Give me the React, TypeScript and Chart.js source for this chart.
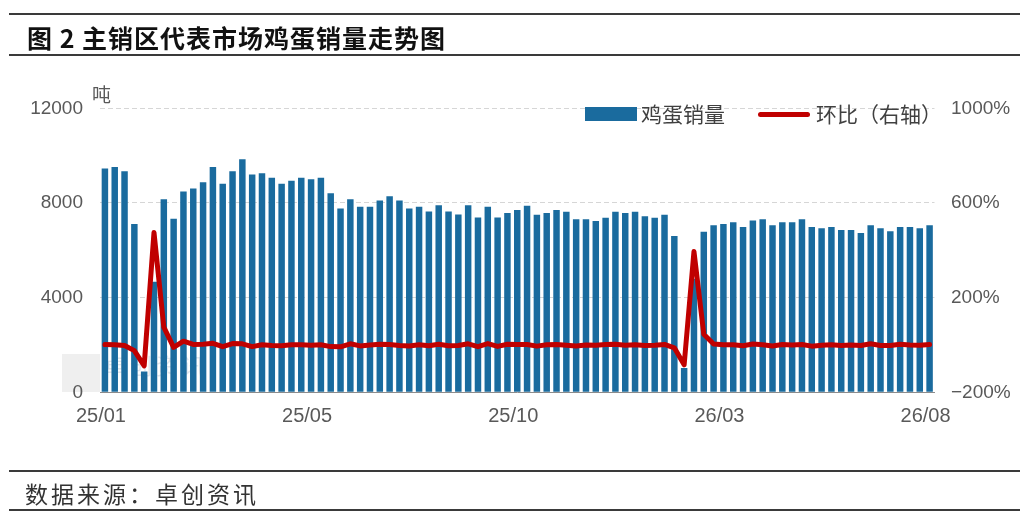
import React, { useEffect, useRef } from "react";
import { Chart, registerables } from "chart.js";

Chart.register(...registerables);

// Weekly dates (categories)
const weeks = [
  "2025-01-03", "2025-01-10", "2025-01-17", "2025-01-24", "2025-01-31",
  "2025-02-07", "2025-02-14", "2025-02-21", "2025-02-28",
  "2025-03-07", "2025-03-14", "2025-03-21", "2025-03-28",
  "2025-04-04", "2025-04-11", "2025-04-18", "2025-04-25",
  "2025-05-02", "2025-05-09", "2025-05-16", "2025-05-23", "2025-05-30",
  "2025-06-06", "2025-06-13", "2025-06-20", "2025-06-27",
  "2025-07-04", "2025-07-11", "2025-07-18", "2025-07-25",
  "2025-08-01", "2025-08-08", "2025-08-15", "2025-08-22", "2025-08-29",
  "2025-09-05", "2025-09-12", "2025-09-19", "2025-09-26",
  "2025-10-03", "2025-10-10", "2025-10-17", "2025-10-24", "2025-10-31",
  "2025-11-07", "2025-11-14", "2025-11-21", "2025-11-28",
  "2025-12-05", "2025-12-12", "2025-12-19", "2025-12-26",
  "2026-01-02", "2026-01-09", "2026-01-16", "2026-01-23", "2026-01-30",
  "2026-02-06", "2026-02-13", "2026-02-20", "2026-02-27",
  "2026-03-06", "2026-03-13", "2026-03-20", "2026-03-27",
  "2026-04-03", "2026-04-10", "2026-04-17", "2026-04-24",
  "2026-05-01", "2026-05-08", "2026-05-15", "2026-05-22", "2026-05-29",
  "2026-06-05", "2026-06-12", "2026-06-19", "2026-06-26",
  "2026-07-03", "2026-07-10", "2026-07-17", "2026-07-24", "2026-07-31",
  "2026-08-07", "2026-08-14",
];

// 鸡蛋销量 (吨)
const sales = [
  9455, 9515, 9343, 7115, 883, 4672, 8157, 7330, 8487, 8615,
  8872, 9515, 8815, 9343, 9843, 9200, 9257, 9070, 8815, 8943,
  9070, 9000, 9070, 8414, 7771, 8157, 7843, 7843, 8100, 8286,
  8100, 7771, 7843, 7643, 7900, 7643, 7514, 7900, 7386, 7843,
  7386, 7571, 7700, 7886, 7500, 7571, 7700, 7629, 7314, 7314,
  7243, 7371, 7629, 7571, 7629, 7443, 7371, 7500, 6600, 1028,
  4800, 6786, 7057, 7114, 7186, 6986, 7257, 7314, 7057, 7186,
  7186, 7314, 6986, 6929, 6986, 6857, 6857, 6729, 7057, 6929,
  6800, 6986, 6986, 6929, 7057,
];

// 环比 (%, right axis)
const momPct = [
  2, 1, -2, -24, -88, 475, 75, -10, 16, 2,
  3, 7, -7, 6, 5, -7, 1, -2, -3, 1,
  1, -1, 1, -7, -8, 5, -4, 0, 3, 2,
  -2, -4, 1, -3, 3, -3, -2, 5, -7, 6,
  -6, 3, 2, 2, -5, 1, 2, -1, -4, 0,
  -1, 2, 3, -1, 1, -2, -1, 2, -12, -84,
  395, 45, 4, 1, 1, -3, 4, 1, -4, 2,
  0, 2, -5, -1, 1, -2, 0, -2, 5, -2,
  -2, 3, 0, -1, 2,
];

const leftTicks = [0, 4000, 8000, 12000];
const rightTicks = [-200, 200, 600, 1000];
const labelEvery = 21;

const BAR_COLOR = "#1a6b9e";
const LINE_COLOR = "#c00000";
const TICK_FONT = '"Liberation Sans", Arial, "Noto Sans CJK SC", sans-serif';
const CJK_FONT = '"Noto Sans CJK SC", "Noto Sans", sans-serif';

function fmtWeek(s: string) {
  return s.slice(2, 4) + "/" + s.slice(5, 7);
}

export default function App() {
  const ref = useRef<HTMLCanvasElement>(null);

  useEffect(() => {
    if (!ref.current) return;
    const chart = new Chart(ref.current, {
      data: {
        labels: weeks,
        datasets: [
          {
            type: "line",
            label: "环比（右轴）",
            data: momPct,
            yAxisID: "y1",
            borderColor: LINE_COLOR,
            backgroundColor: LINE_COLOR,
            borderWidth: 5,
            pointRadius: 0,
            tension: 0,
            borderJoinStyle: "round",
            borderCapStyle: "round",
            order: 0,
          } as any,
          {
            type: "bar",
            label: "鸡蛋销量",
            data: sales,
            yAxisID: "y",
            backgroundColor: BAR_COLOR,
            barPercentage: 0.66,
            categoryPercentage: 1,
            order: 1,
          } as any,
        ],
      },
      options: {
        responsive: false,
        animation: false,
        layout: { padding: { top: 108.3, bottom: 82.7, left: 0, right: 0 } },
        plugins: {
          legend: { display: false },
          tooltip: { enabled: false },
        },
        scales: {
          x: {
            type: "category",
            offset: true,
            grid: { display: false, drawTicks: false },
            border: { display: true, color: "#8c8c8c", width: 1 },
            afterFit: (s: any) => {
              s.height = 50;
            },
            ticks: {
              autoSkip: false,
              maxRotation: 0,
              minRotation: 0,
              padding: 12,
              labelOffset: -4,
              color: "#595959",
              font: { family: TICK_FONT, size: 20 },
              callback: (_v: any, i: number) =>
                i % labelEvery === 0 ? fmtWeek(weeks[i]) : "",
            },
          },
          y: {
            type: "linear",
            position: "left",
            min: leftTicks[0],
            max: leftTicks[leftTicks.length - 1],
            afterBuildTicks: (s: any) => {
              s.ticks = leftTicks.map((v) => ({ value: v }));
            },
            afterFit: (s: any) => {
              s.width = 100;
            },
            grid: {
              drawTicks: false,
              color: (c: any) => (c.tick && c.tick.value === 0 ? "rgba(0,0,0,0)" : "#d6d6d6"),
              lineWidth: 1,
            },
            border: { display: false, dash: [5, 3] },
            ticks: {
              padding: 17,
              color: "#595959",
              font: { family: TICK_FONT, size: 19 },
              callback: (v: any) => String(v),
            },
          },
          y1: {
            type: "linear",
            position: "right",
            min: rightTicks[0],
            max: rightTicks[rightTicks.length - 1],
            afterBuildTicks: (s: any) => {
              s.ticks = rightTicks.map((v) => ({ value: v }));
            },
            afterFit: (s: any) => {
              s.width = 94.5;
            },
            grid: { display: false, drawTicks: false },
            border: { display: false },
            ticks: {
              padding: 16.5,
              color: "#595959",
              font: { family: TICK_FONT, size: 19 },
              callback: (v: any) => (v < 0 ? "\u2212" + Math.abs(v) + "%" : v + "%"),
            },
          },
        },
      } as any,
    });
    return () => chart.destroy();
  }, []);

  const rule = (top: number): React.CSSProperties => ({
    position: "absolute",
    left: 9,
    width: 1011,
    top: top - 1,
    height: 2,
    background: "#3a3a3a",
  });

  return (
    <div
      style={{
        position: "absolute",
        left: 0,
        top: 0,
        width: 1029,
        height: 525,
        background: "#ffffff",
        overflow: "hidden",
      }}
    >
      {/* faint watermark behind chart */}
      <div style={{ position: "absolute", left: 62, top: 354, width: 38, height: 38, background: "#efefef" }} />
      <div
        style={{
          position: "absolute",
          left: 104,
          top: 352,
          fontFamily: CJK_FONT,
          fontSize: 22,
          lineHeight: "24px",
          color: "rgba(170,185,200,0.35)",
          letterSpacing: 4,
          whiteSpace: "nowrap",
        }}
      >
        卓创资讯
      </div>

      <canvas
        ref={ref}
        width={1029}
        height={525}
        style={{ position: "absolute", left: 0, top: 0, width: 1029, height: 525, display: "block" }}
      />

      {/* title block */}
      <div style={rule(14.3)} />
      <div
        style={{
          position: "absolute",
          left: 27,
          top: 21,
          height: 32,
          lineHeight: "32px",
          fontFamily: CJK_FONT,
          fontWeight: 700,
          fontSize: 25,
          letterSpacing: 1,
          color: "#111111",
          whiteSpace: "nowrap",
        }}
      >
        图 2 主销区代表市场鸡蛋销量走势图
      </div>
      <div style={rule(55)} />

      {/* unit */}
      <div
        style={{
          position: "absolute",
          left: 92,
          top: 82,
          lineHeight: "24px",
          fontFamily: CJK_FONT,
          fontSize: 19,
          color: "#595959",
        }}
      >
        吨
      </div>

      {/* legend */}
      <div style={{ position: "absolute", left: 585, top: 107, width: 52, height: 14, background: BAR_COLOR }} />
      <div
        style={{
          position: "absolute",
          left: 641,
          top: 99,
          lineHeight: "28px",
          fontFamily: CJK_FONT,
          fontSize: 21,
          color: "#404040",
          whiteSpace: "nowrap",
        }}
      >
        鸡蛋销量
      </div>
      <div
        style={{
          position: "absolute",
          left: 758,
          top: 111.5,
          width: 52,
          height: 5,
          borderRadius: 3,
          background: LINE_COLOR,
        }}
      />
      <div
        style={{
          position: "absolute",
          left: 816,
          top: 99,
          lineHeight: "28px",
          fontFamily: CJK_FONT,
          fontSize: 21,
          color: "#404040",
          whiteSpace: "nowrap",
        }}
      >
        环比（右轴）
      </div>

      {/* footer */}
      <div style={rule(471)} />
      <div
        style={{
          position: "absolute",
          left: 25,
          top: 477,
          lineHeight: "32px",
          fontFamily: CJK_FONT,
          fontSize: 23,
          letterSpacing: 3,
          color: "#333333",
          whiteSpace: "nowrap",
        }}
      >
        数据来源：卓创资讯
      </div>
      <div style={rule(510)} />
    </div>
  );
}
